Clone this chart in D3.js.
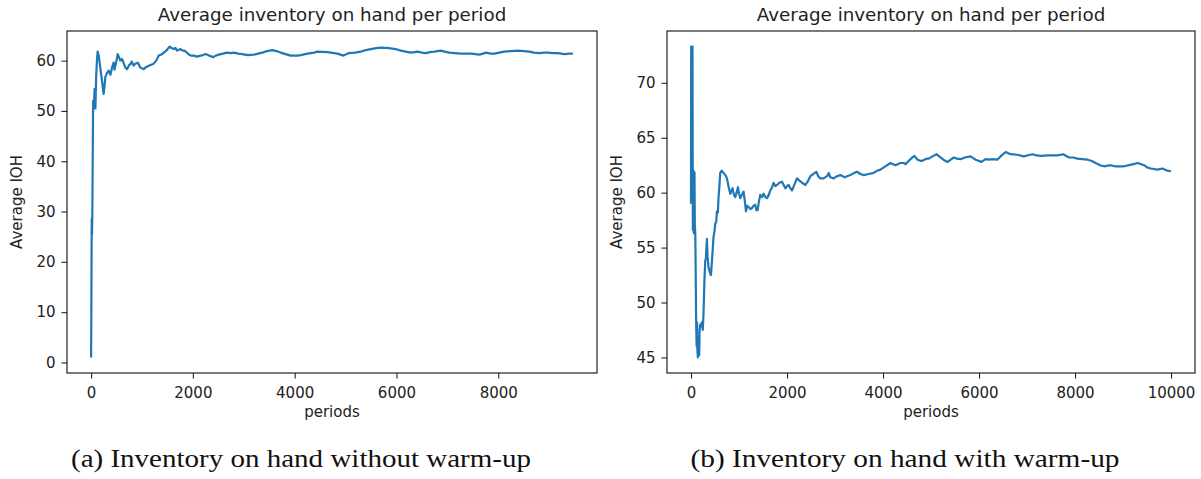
<!DOCTYPE html>
<html>
<head>
<meta charset="utf-8">
<script src="https://cdn.jsdelivr.net/npm/d3@7"></script>
<style>
  body { margin: 0; background: #fff; }
  #charts text { font-family: "DejaVu Sans", sans-serif; fill: #222; }
  #charts text.caption { font-family: "Liberation Serif", serif; fill: #111; }
</style>
</head>
<body>
<div id="charts"></div>
<script>
// (a) without warm-up: period, average IOH
const leftPeriods = [0, 5, 12, 18, 24, 40, 55, 69, 85, 100, 115, 128, 150, 181, 214, 246, 265, 280, 310, 345, 380, 411, 443, 460, 476, 500, 522, 545, 575, 610, 640, 673, 707, 740, 772, 800, 837, 870, 915, 940, 969, 1000, 1033, 1080, 1132, 1180, 1230, 1280, 1329, 1380, 1427, 1480, 1545, 1580, 1624, 1660, 1690, 1720, 1756, 1800, 1835, 1880, 1919, 1960, 2018, 2080, 2150, 2200, 2248, 2320, 2400, 2450, 2510, 2590, 2675, 2740, 2805, 2890, 2970, 3080, 3199, 3280, 3364, 3460, 3561, 3640, 3724, 3820, 3921, 3990, 4053, 4118, 4250, 4380, 4447, 4644, 4841, 4959, 5069, 5180, 5299, 5400, 5496, 5600, 5693, 5856, 5980, 6087, 6180, 6283, 6415, 6500, 6579, 6660, 6742, 6874, 6950, 7037, 7150, 7268, 7465, 7628, 7700, 7760, 7850, 7923, 8020, 8120, 8250, 8384, 8500, 8612, 8700, 8809, 8900, 8974, 9070, 9171, 9301, 9400, 9467];
const leftIOH = [1.0, 10, 28.5, 25.5, 29, 52, 50.5, 54.4, 50.5, 57, 60, 61.8, 61, 58.6, 56, 53.4, 55, 56.7, 57.5, 58, 57.2, 58.6, 59.6, 58.2, 59, 60, 61.3, 60.8, 60, 60.3, 59.5, 58.6, 58.3, 59, 59.3, 59.8, 59, 59.4, 59.6, 59.2, 58.6, 58.5, 58.3, 58.7, 59, 59.2, 59.4, 60, 61, 61.2, 61.6, 62, 62.8, 62.5, 62.3, 62.5, 62, 62.1, 62.3, 62, 62, 61.6, 61.2, 61, 61, 60.8, 61, 61.1, 61.3, 61, 60.7, 61, 61.2, 61.4, 61.6, 61.5, 61.6, 61.4, 61.3, 61.1, 61.2, 61.4, 61.6, 61.9, 62.1, 61.9, 61.6, 61.3, 61, 61, 61, 61.1, 61.4, 61.6, 61.8, 61.7, 61.4, 61, 61.5, 61.6, 61.8, 62.1, 62.3, 62.5, 62.6, 62.5, 62.3, 62, 61.8, 61.6, 61.8, 61.6, 61.5, 61.7, 61.8, 62, 61.8, 61.6, 61.5, 61.4, 61.4, 61.2, 61.4, 61.6, 61.4, 61.4, 61.6, 61.8, 61.9, 62, 61.9, 61.8, 61.6, 61.5, 61.6, 61.6, 61.5, 61.5, 61.3, 61.4, 61.4];

// (b) with warm-up: period, average IOH
const rightPeriods = [0, 4, 14, 22, 31, 36, 39, 46, 52, 60, 66, 73, 80, 90, 108, 118, 126, 135, 143, 160, 171, 180, 192, 210, 227, 245, 261, 280, 296, 310, 331, 345, 365, 390, 415, 440, 470, 490, 505, 525, 540, 560, 574, 590, 609, 640, 678, 715, 749, 785, 818, 845, 866, 895, 922, 950, 978, 1000, 1026, 1060, 1095, 1120, 1145, 1170, 1199, 1235, 1270, 1300, 1339, 1365, 1387, 1415, 1443, 1480, 1512, 1550, 1583, 1620, 1652, 1690, 1720, 1755, 1791, 1840, 1895, 1930, 1965, 2000, 2034, 2070, 2104, 2160, 2208, 2260, 2313, 2382, 2430, 2486, 2550, 2611, 2650, 2695, 2760, 2834, 2870, 2900, 2972, 3040, 3112, 3200, 3320, 3400, 3460, 3530, 3598, 3700, 3806, 3880, 3946, 4050, 4154, 4259, 4363, 4432, 4467, 4560, 4655, 4720, 4780, 4815, 4919, 4953, 5030, 5114, 5170, 5232, 5290, 5350, 5410, 5475, 5540, 5614, 5704, 5823, 5927, 6052, 6135, 6210, 6275, 6380, 6448, 6553, 6657, 6797, 6935, 7020, 7110, 7200, 7283, 7456, 7631, 7756, 7873, 7960, 8048, 8150, 8256, 8340, 8430, 8520, 8603, 8743, 8830, 8916, 9020, 9124, 9220, 9312, 9437, 9500, 9577, 9716, 9821, 9925, 9999];
const rightIOH = [59, 73.3, 73.3, 60, 73.3, 62, 56.6, 62.1, 57, 56.3, 61.9, 61.8, 57, 56.2, 48, 46, 48.2, 45.5, 45, 45.5, 45.2, 47.5, 48, 47.8, 48.2, 47.5, 49, 52, 53.8, 54, 55.8, 54.2, 53.2, 52.8, 52.5, 54, 56, 56.5, 57.2, 57.3, 58.3, 58.2, 59.6, 60.5, 61.8, 62, 61.8, 61.6, 61.3, 60.5, 59.9, 60.2, 60.4, 59.8, 59.6, 60, 60.5, 59.9, 59.5, 59.8, 60.1, 59.3, 58.3, 58.8, 58.7, 58.5, 58.6, 58.8, 58.9, 58.4, 58.4, 59.2, 59.8, 59.6, 59.9, 59.6, 59.5, 59.8, 60.2, 60.5, 60.9, 60.6, 60.7, 60.9, 61, 60.7, 60.4, 60.6, 60.7, 60.4, 60.2, 60.8, 61.3, 61.1, 60.9, 60.7, 61, 61.5, 61.7, 61.9, 61.5, 61.3, 61.3, 61.5, 61.8, 61.4, 61.3, 61.5, 61.6, 61.4, 61.6, 61.8, 61.9, 61.7, 61.6, 61.7, 61.8, 62, 62.1, 62.4, 62.7, 62.5, 62.7, 62.7, 62.6, 63, 63.35, 63, 62.9, 62.9, 63.1, 63.1, 63.3, 63.5, 63.3, 63.1, 62.9, 62.8, 63, 63.2, 63.1, 63.05, 63.2, 63.3, 63, 62.8, 63.05, 63, 63.05, 63, 63.3, 63.7, 63.5, 63.45, 63.3, 63.4, 63.5, 63.4, 63.35, 63.4, 63.4, 63.5, 63.2, 63.2, 63.1, 63.05, 63, 62.9, 62.7, 62.5, 62.4, 62.5, 62.4, 62.4, 62.4, 62.5, 62.6, 62.7, 62.5, 62.3, 62.2, 62.1, 62.2, 62, 61.95];

const leftXTicks = [0, 2000, 4000, 6000, 8000];
const rightXTicks = [0, 2000, 4000, 6000, 8000, 10000];
const leftYTicks = [0, 10, 20, 30, 40, 50, 60];
const rightYTicks = [45, 50, 55, 60, 65, 70];

const chartTitle = "Average inventory on hand per period";
const xLabel = "periods";
const yLabel = "Average IOH";
const captions = ["(a) Inventory on hand without warm-up", "(b) Inventory on hand with warm-up"];

(function() {
  const width = 1201;
  const height = 479;

  const svg = d3.select("#charts")
    .append("svg")
    .attr("width", width)
    .attr("height", height);

  // matplotlib style: 5% padding around data extent
  const padded = (vals) => {
    const [lo, hi] = d3.extent(vals);
    const m = (hi - lo) * 0.05;
    return [lo - m, hi + m];
  };

  const drawPanel = (box, periods, values, xTicks, yTicks, caption) => {
    const data = periods.map((p, i) => ({ p, v: values[i] }));

    const x = d3.scaleLinear().domain(padded(periods)).range([box.left, box.right]);
    const y = d3.scaleLinear().domain(padded(values)).range([box.bottom, box.top]);

    const g = svg.append("g");

    g.append("g")
      .attr("transform", `translate(0, ${box.bottom})`)
      .call(d3.axisBottom(x).tickValues(xTicks).tickSize(5.5).tickPadding(9).tickFormat(d3.format("d")))
      .call(a => a.select(".domain").remove())
      .call(a => a.selectAll("line").attr("stroke", "#222").attr("stroke-width", 1.1))
      .call(a => a.selectAll("text").attr("font-size", 15).attr("font-family", null));

    g.append("g")
      .attr("transform", `translate(${box.left}, 0)`)
      .call(d3.axisLeft(y).tickValues(yTicks).tickSize(5.5).tickPadding(6).tickFormat(d3.format("d")))
      .call(a => a.select(".domain").remove())
      .call(a => a.selectAll("line").attr("stroke", "#222").attr("stroke-width", 1.1))
      .call(a => a.selectAll("text").attr("font-size", 15).attr("font-family", null));

    g.append("path")
      .datum(data)
      .attr("fill", "none")
      .attr("stroke", "#1f77b4")
      .attr("stroke-width", 2.2)
      .attr("stroke-linejoin", "round")
      .attr("d", d3.line().x(d => x(d.p)).y(d => y(d.v)));

    g.append("rect")
      .attr("x", box.left)
      .attr("y", box.top)
      .attr("width", box.right - box.left)
      .attr("height", box.bottom - box.top)
      .attr("fill", "none")
      .attr("stroke", "#222")
      .attr("stroke-width", 1.2);

    const cx = (box.left + box.right) / 2;

    g.append("text")
      .attr("x", cx)
      .attr("y", box.top - 10)
      .attr("text-anchor", "middle")
      .attr("font-size", 18.3)
      .text(chartTitle);

    g.append("text")
      .attr("x", cx)
      .attr("y", box.bottom + 44)
      .attr("text-anchor", "middle")
      .attr("font-size", 15)
      .text(xLabel);

    g.append("text")
      .attr("transform", `translate(${box.left - 45}, ${(box.top + box.bottom) / 2}) rotate(-90)`)
      .attr("text-anchor", "middle")
      .attr("font-size", 15)
      .text(yLabel);

    // LaTeX-like subcaption: stretch a serif face to Computer Modern's width
    g.append("text")
      .attr("class", "caption")
      .attr("x", caption.x)
      .attr("y", 467)
      .attr("text-anchor", "middle")
      .attr("font-size", 25)
      .attr("textLength", caption.w)
      .attr("lengthAdjust", "spacingAndGlyphs")
      .text(caption.text);
  };

  drawPanel({ left: 67, right: 597, top: 31, bottom: 373 }, leftPeriods, leftIOH, leftXTicks, leftYTicks, { x: 301, w: 460, text: captions[0] });
  drawPanel({ left: 667, right: 1195, top: 31, bottom: 373 }, rightPeriods, rightIOH, rightXTicks, rightYTicks, { x: 905, w: 429, text: captions[1] });
})();
</script>
</body>
</html>
